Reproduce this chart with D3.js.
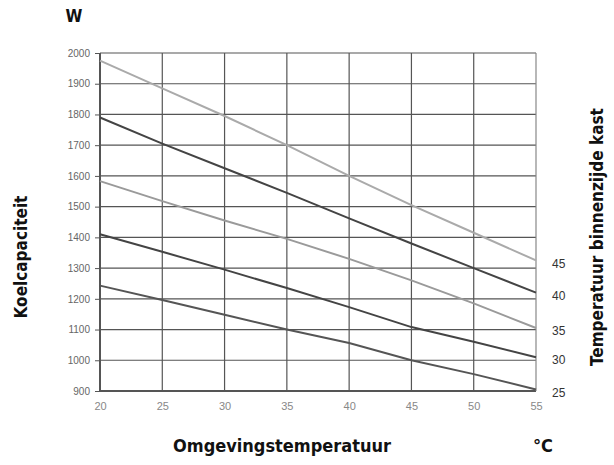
<!DOCTYPE html>
<html>
<head>
<meta charset="utf-8">
<script src="https://cdn.jsdelivr.net/npm/d3@7"></script>
<style>
  body { margin: 0; background: #fff; }
  .title { font-family: "Liberation Sans Narrow", "DejaVu Sans Condensed", sans-serif; font-weight: bold; fill: #111; }
  .tick text { font-family: "Liberation Sans", Arial, sans-serif; }
</style>
</head>
<body>
<div class="chart"></div>
<script>
var temps = [20, 25, 30, 35, 40, 45, 50, 55];
var innerTemps = [45, 40, 35, 30, 25];
var capacity = [
    [1975, 1885, 1795, 1700, 1600, 1505, 1415, 1325],
    [1790, 1705, 1625, 1545, 1462, 1380, 1300, 1220],
    [1583, 1518, 1455, 1395, 1330, 1260, 1185, 1105],
    [1410, 1353, 1295, 1235, 1173, 1108, 1060, 1010],
    [1243, 1196, 1148, 1100, 1056, 1000, 955, 905]
];
var lineColors = ["#aaaaaa", "#444444", "#9a9a9a", "#444444", "#555555"];
var yTicks = [900, 1000, 1100, 1200, 1300, 1400, 1500, 1600, 1700, 1800, 1900, 2000];

var marg = { t: 53, r: 78, b: 74, l: 100 };
var wid = 614 - marg.l - marg.r;
var hei = 465 - marg.t - marg.b;

var svg = d3.select(".chart")
    .append("svg")
    .attr("width", 614)
    .attr("height", 465);

var g = svg.append("g")
    .attr("transform", "translate(" + marg.l + "," + marg.t + ")");

var xscale = d3.scaleLinear()
    .domain([20, 55])
    .range([0, wid]);

var yscale = d3.scaleLinear()
    .domain([900, 2000])
    .range([hei, 0]);

// grid
g.selectAll(".hgrid")
    .data(yTicks)
    .enter().append("line")
    .attr("class", "hgrid")
    .attr("x1", 0)
    .attr("x2", wid)
    .attr("y1", function(d) { return yscale(d); })
    .attr("y2", function(d) { return yscale(d); })
    .style("stroke", "#555")
    .style("stroke-width", function(d) { return d == 900 ? 2 : 1.2; });

g.selectAll(".vgrid")
    .data(temps)
    .enter().append("line")
    .attr("class", "vgrid")
    .attr("x1", function(d) { return xscale(d); })
    .attr("x2", function(d) { return xscale(d); })
    .attr("y1", 0)
    .attr("y2", hei)
    .style("stroke", function(d) { return d == 55 ? "#888" : "#555"; })
    .style("stroke-width", function(d) { return d == 20 ? 2 : 1.2; });

var yAxis = d3.axisLeft(yscale)
    .tickValues(yTicks)
    .tickSize(5)
    .tickPadding(5)
    .tickFormat(d3.format("d"));

var yg = g.append("g").call(yAxis);
yg.select(".domain").remove();
yg.selectAll("line").style("stroke", "#555");
yg.selectAll("text").style("font-size", "10px").style("fill", "#666");

var xAxis = d3.axisBottom(xscale)
    .tickValues(temps)
    .tickSize(0)
    .tickPadding(11);

var xg = g.append("g")
    .attr("transform", "translate(0," + hei + ")")
    .call(xAxis);
xg.select(".domain").remove();
xg.selectAll("text").style("font-size", "11px").style("fill", "#888");

// curves
var line = d3.line()
    .x(function(d, i) { return xscale(temps[i]); })
    .y(function(d) { return yscale(d); });

g.selectAll(".curve")
    .data(capacity)
    .enter().append("path")
    .attr("class", "curve")
    .attr("d", line)
    .style("fill", "none")
    .style("stroke", function(d, i) { return lineColors[i]; })
    .style("stroke-width", 2);

// right labels at line ends
g.selectAll(".rlab")
    .data(innerTemps)
    .enter().append("text")
    .attr("class", "rlab")
    .attr("x", wid + 16)
    .attr("y", function(d, i) { return yscale(capacity[i][temps.length - 1]) + 3; })
    .attr("dy", "0.35em")
    .style("font-family", "Liberation Sans, Arial, sans-serif")
    .style("font-size", "12px")
    .style("fill", "#333")
    .text(function(d) { return d; });

// titles
svg.append("text")
    .attr("class", "title")
    .attr("x", 74)
    .attr("y", 22)
    .style("text-anchor", "middle")
    .style("font-size", "17px")
    .text("W");

svg.append("text")
    .attr("class", "title")
    .attr("transform", "translate(27,257) rotate(-90)")
    .style("text-anchor", "middle")
    .style("font-size", "17px")
    .text("Koelcapaciteit");

svg.append("text")
    .attr("class", "title")
    .attr("transform", "translate(603,237) rotate(-90)")
    .style("text-anchor", "middle")
    .style("font-size", "17px")
    .text("Temperatuur binnenzijde kast");

svg.append("text")
    .attr("class", "title")
    .attr("x", 282)
    .attr("y", 452)
    .style("text-anchor", "middle")
    .style("font-size", "18px")
    .text("Omgevingstemperatuur");

svg.append("text")
    .attr("class", "title")
    .attr("x", 543)
    .attr("y", 452)
    .style("text-anchor", "middle")
    .style("font-size", "18px")
    .text("°C");
</script>
</body>
</html>
